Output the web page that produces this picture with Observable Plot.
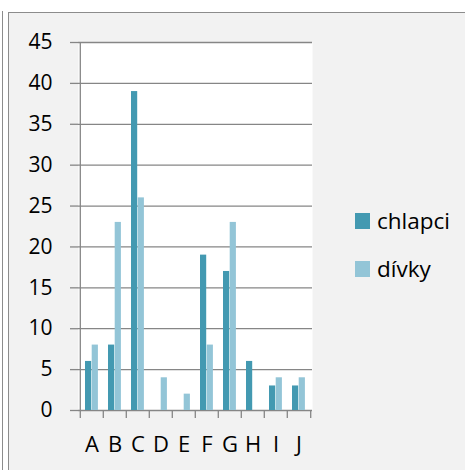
<!DOCTYPE html>
<html><head><meta charset="utf-8">
<script src="https://cdn.jsdelivr.net/npm/d3@7"></script>
<script src="https://cdn.jsdelivr.net/npm/@observablehq/plot@0.6"></script>
<style>
html,body{margin:0;padding:0;background:#fff;}
body{width:465px;height:470px;overflow:hidden;position:relative;font-family:"Open Sans",sans-serif;}
#line{position:absolute;left:2px;top:11px;width:1px;height:470px;background:#8c8c8c}
#frame{position:absolute;left:8px;top:12px;width:480px;height:480px;border:1px solid #8c8c8c;background:#f2f2f2}
#chart{position:absolute;left:0;top:0}
.sw{position:absolute;left:355px;width:15px;height:16px}
.lt{position:absolute;left:377px;font-size:22.5px;line-height:22px;color:#000;white-space:nowrap}
</style>
</head><body>
<div id="line"></div>
<div id="frame"></div>
<div id="chart"></div>
<div class="sw" id="sw0" style="top:213px"></div><div class="lt" id="lt0" style="top:210px"></div>
<div class="sw" id="sw1" style="top:261px"></div><div class="lt" id="lt1" style="top:258px"></div>
<script>
const categories = ["A","B","C","D","E","F","G","H","I","J"];
const seriesNames = ["chlapci","dívky"];
const chlapci = [6, 8, 39, 0, 0, 19, 17, 6, 3, 3];
const divky   = [8, 23, 26, 4, 2, 8, 23, 0, 4, 4];
const yTicks = [0,5,10,15,20,25,30,35,40,45];
const colors = ["#4399b1", "#93c5d7"];

const W = 330, ML = 78, MR = 18;
const bw = (W - ML - MR) / categories.length;
const gridColor = "#868686";

const dataC = categories.map((c,i)=>({cat:c, value:chlapci[i], series:seriesNames[0]}));
const dataD = categories.map((c,i)=>({cat:c, value:divky[i], series:seriesNames[1]}));

const chart = Plot.plot({
  width: W, height: 470,
  marginLeft: ML, marginRight: MR, marginTop: 42, marginBottom: 60,
  style: {background: "transparent", fontFamily: "'Open Sans', sans-serif", color: "#000", overflow: "visible"},
  x: {type: "band", domain: categories, padding: 0},
  y: {domain: [0, 45]},
  color: {domain: seriesNames, range: colors},
  marks: [
    Plot.frame({fill: "white", stroke: "none"}),
    Plot.ruleY(yTicks, {stroke: gridColor, strokeWidth: 1.3}),
    Plot.ruleX([categories[0]], {dx: -bw/2, stroke: gridColor, strokeWidth: 1.3}),
    Plot.axisY({ticks: yTicks, tickSize: 8, tickPadding: 18, stroke: gridColor, strokeWidth: 1.3, fontSize: 21, label: null}),
    Plot.axisX({ticks: categories, tickSize: 8, tickFormat: () => "", dx: -bw/2, stroke: gridColor, strokeWidth: 1.3, label: null}),
    Plot.axisX({ticks: [categories[categories.length-1]], tickSize: 8, tickFormat: () => "", dx: bw/2, stroke: gridColor, strokeWidth: 1.3, label: null}),
    Plot.axisX({ticks: categories, tickSize: 0, tickPadding: 26, fontSize: 22, label: null}),
    Plot.barY(dataC, {x: "cat", y: "value", fill: "series", insetLeft: 5, insetRight: 11.8}),
    Plot.barY(dataD, {x: "cat", y: "value", fill: "series", insetLeft: 11.7, insetRight: 5.1})
  ]
});
document.getElementById("chart").appendChild(chart);

seriesNames.forEach((s,i)=>{
  document.getElementById("sw"+i).style.background = colors[i];
  document.getElementById("lt"+i).textContent = s;
});
</script>
</body></html>
